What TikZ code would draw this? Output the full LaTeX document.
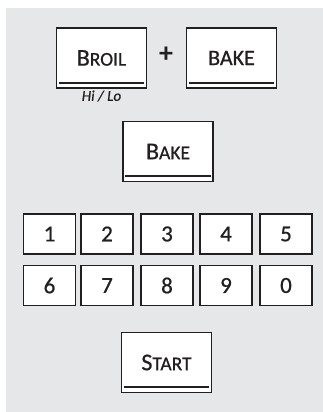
\documentclass[tikz,border=0pt]{standalone}
\usepackage{fontspec}
\setmainfont{Carlito}
\newfontfamily\keyfont[FakeBold=0.7]{Carlito}
\definecolor{panelgray}{HTML}{E6E7E8}
\definecolor{keyink}{HTML}{231F20}
\newcommand{\keycap}[2]{{\fontsize{24}{26}\selectfont #1}{\fontsize{19.5}{26}\selectfont #2}}

\begin{document}
\begin{tikzpicture}[x=1pt,y=-1pt]

	\tikzstyle{key}=[draw=keyink, line width=1.5pt, fill=white, inner sep=0pt, text=keyink, font=\keyfont\fontsize{22}{26}\selectfont];
	\tikzstyle{bigkey}=[key, minimum width=90pt, minimum height=60pt];
	\tikzstyle{numkey}=[key, minimum width=52pt, minimum height=40pt, font=\keyfont\fontsize{23}{26}\selectfont];
	\tikzstyle{keyline}=[draw=keyink, line width=2.4pt];

	\useasboundingbox (0,0) rectangle (323,412);
	\fill[panelgray] (6,8) rectangle (323,412);

	% top row
	\node[bigkey] (broil) at (101.5,58) {\keycap{B}{ROIL}};
	\node[text=keyink, font=\fontsize{28}{28}\selectfont\bfseries] (plus) at (166,55) {+};
	\node[bigkey] (bake) at (231.5,58) {BAKE};
	\node[text=keyink, font=\keyfont\fontsize{15}{15}\selectfont\itshape] (hilo) at (101.5,96) {Hi / Lo};

	\node[bigkey] (bakeb) at (168,151.5) {\keycap{B}{AKE}};

	% number pad
	\foreach \x/\d in {49.5/1,107/2,167/3,226/4,286/5}
		\node[numkey] (num\d) at (\x,234) {\d};
	\foreach \x/\d in {49.5/6,107/7,167/8,226/9,286/0}
		\node[numkey] (num\d) at (\x,285.5) {\d};

	\node[bigkey] (start) at (166.5,362.5) {\keycap{S}{TART}};

	% underlines
	\foreach \k in {broil,bake,bakeb,start}
		\draw[keyline] ([xshift=3pt,yshift=6pt]\k.south west) -- ([xshift=-3pt,yshift=6pt]\k.south east);

\end{tikzpicture}
\end{document}
